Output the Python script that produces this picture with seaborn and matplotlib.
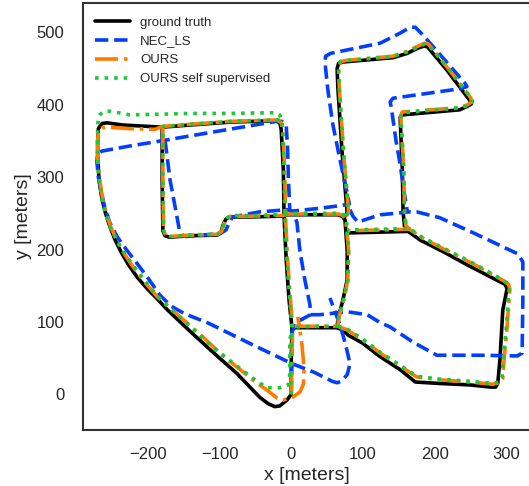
import matplotlib
matplotlib.use("Agg")
import matplotlib.pyplot as plt
from matplotlib.lines import Line2D
import pandas as pd
import seaborn as sns

SERIES = ["ground truth", "NEC_LS", "OURS", "OURS self supervised"]
COLORS = {"ground truth": "black", "NEC_LS": "#023eff",
          "OURS": "#ff7c00", "OURS self supervised": "#1ac938"}
DASHES = {"ground truth": "", "NEC_LS": (3.7, 1.6),
          "OURS": (6.4, 1.6, 1.0, 1.6), "OURS self supervised": (1.0, 1.65)}

# ---- trajectories, (x, y) in meters, split into drivable pieces ----
gt_outer = [(0, 0), (0, 47), (1, 92), (-3, 130), (-7, 185), (-10, 246), (-11, 310), (-14, 366),
            (-16, 375), (-21, 378), (-85, 376), (-141, 372), (-180, 369), (-235, 372), (-257, 375),
            (-264, 374), (-269, 367), (-270, 350), (-270, 328), (-268, 296), (-264, 270),
            (-259, 250), (-253, 232), (-246, 214), (-237, 196), (-227, 179), (-215, 162),
            (-201, 146), (-187, 132), (-173, 117), (-141, 87), (-109, 58), (-76, 29), (-44, -4),
            (-32, -13), (-23, -17), (-16, -16), (-6, -8), (0, 0)]
gt_inner = [(-180, 369), (-180, 296), (-179, 226), (-176, 219), (-170, 217), (-141, 219),
            (-103, 220), (-98, 224), (-95, 234), (-91, 242), (-86, 245), (-57, 245), (-16, 246),
            (-10, 246)]
gt_middle = [(-10, 246), (-5, 248), (40, 248), (65, 248), (71, 246), (75, 241), (78, 199),
             (78, 158), (72, 130), (65, 103), (64, 92), (40, 92), (1, 92)]
gt_right = [(64, 92), (72, 89), (79, 82), (99, 71), (124, 52), (152, 34), (173, 17), (207, 15),
            (249, 13), (278, 10), (285, 10), (288, 15), (291, 47), (295, 116), (301, 146),
            (298, 152), (292, 155), (245, 179), (212, 197), (180, 213), (163, 225), (124, 224),
            (79, 223)]
gt_upper = [(75, 246), (78, 251), (71, 333), (65, 424), (64, 450), (66, 457), (72, 459),
            (142, 465), (162, 471), (176, 478), (185, 481), (190, 480), (217, 448), (249, 406),
            (251, 401), (246, 398), (235, 393), (155, 386), (152, 383), (152, 379), (155, 310),
            (156, 252), (158, 232), (163, 225)]

nec_a = [(0, 0), (1, 47), (1, 86), (8, 100), (27, 110), (26, 124), (19, 158), (12, 199), (8, 237),
         (4, 250), (1, 253), (-2, 254), (-4, 300), (-5, 337), (-7, 371), (-13, 377), (-21, 377),
         (-99, 364), (-176, 351), (-225, 343), (-264, 336), (-270, 332), (-271, 321), (-269, 300),
         (-265, 280), (-260, 258), (-253, 237), (-243, 218), (-230, 200), (-216, 182),
         (-200, 161), (-184, 138), (-168, 122), (-148, 111), (-117, 99), (-53, 68), (2, 42),
         (33, 30), (57, 18), (64, 16), (70, 18), (78, 27), (82, 42), (76, 68), (68, 96), (54, 133)]
nec_b = [(-176, 351), (-169, 296), (-161, 254), (-156, 227), (-152, 220), (-147, 218), (-99, 222),
         (-91, 227), (-86, 238), (-82, 245), (-44, 252), (-6, 255), (1, 253), (40, 257),
         (71, 261), (81, 263), (78, 278), (68, 324), (58, 373), (51, 421), (47, 459), (48, 467),
         (55, 471), (124, 485), (152, 499), (166, 507), (173, 507), (184, 496), (242, 430),
         (245, 425), (235, 422), (142, 409), (138, 404), (140, 393), (146, 351), (152, 317),
         (157, 282), (162, 252), (156, 251), (124, 248), (93, 238), (86, 246), (82, 255), (81, 263)]
nec_c = [(27, 110), (40, 110), (78, 114), (106, 110), (124, 99), (138, 93), (170, 72), (203, 54),
         (263, 54), (315, 53), (322, 57), (323, 130), (323, 183), (316, 194), (254, 223),
         (207, 244), (175, 252), (162, 252)]

ours_start = [(0, 0), (1, 47), (2, 92), (-1, 130), (-5, 185), (-8, 246), (-9, 310), (-12, 366),
              (-14, 375), (-19, 379), (-85, 377), (-141, 373), (-180, 370), (-190, 366),
              (-225, 367), (-257, 369), (-264, 368), (-269, 362), (-270, 350)]
ours_end = [(-270, 350), (-270, 328), (-267, 296), (-263, 270), (-258, 250), (-252, 232),
            (-244, 214), (-234, 196), (-222, 178), (-207, 158), (-187, 135), (-155, 107),
            (-123, 79), (-95, 53), (-71, 34), (-50, 17), (-34, 6), (-20, -5), (-11, -8), (2, -4),
            (12, 3), (17, 14), (18, 34), (15, 68), (11, 96), (9, 107)]
ours_inner = [(-179, 370), (-179, 296), (-178, 226), (-175, 220), (-169, 218), (-141, 220),
              (-103, 221), (-97, 225), (-94, 235), (-90, 243), (-85, 246), (-57, 246), (-16, 247),
              (-9, 247)]
ours_middle = [(-9, 247), (-4, 249), (40, 249), (66, 249), (72, 247), (76, 241), (80, 199),
               (79, 158), (73, 130), (66, 104), (65, 94), (40, 94), (2, 94)]
ours_right = [(65, 94), (78, 89), (100, 75), (124, 57), (152, 39), (175, 24), (207, 20),
              (249, 17), (281, 14), (291, 16), (295, 22), (297, 50), (301, 93), (303, 120),
              (305, 145), (303, 152), (296, 157), (254, 180), (212, 201), (181, 217), (165, 228),
              (124, 227), (79, 226)]
ours_upper = [(76, 246), (80, 251), (73, 333), (67, 424), (66, 451), (69, 459), (75, 461),
              (142, 467), (162, 474), (177, 481), (186, 485), (191, 484), (218, 451), (250, 410),
              (252, 404), (246, 400), (235, 396), (155, 390), (153, 386), (153, 380), (157, 310),
              (158, 252), (160, 233), (165, 228)]

self_start = [(0, 0), (-1, 47), (1, 92), (-2, 130), (-6, 185), (-9, 246), (-10, 310), (-12, 365),
              (-13, 377), (-16, 386), (-21, 389), (-85, 388), (-141, 388), (-180, 387),
              (-225, 386), (-252, 391), (-262, 391), (-268, 385), (-270, 372), (-270, 350)]
self_end = [(-270, 350), (-270, 324), (-268, 296), (-264, 270), (-259, 250), (-252, 230),
            (-243, 212), (-232, 194), (-219, 176), (-204, 157), (-186, 135), (-164, 114),
            (-140, 93), (-109, 65), (-81, 43), (-53, 22), (-34, 9), (-16, 9), (-4, 13), (-2, 27),
            (-2, 75), (1, 89)]
self_inner = [(-16, 379), (-25, 379), (-85, 377), (-141, 373), (-179, 370), (-179, 296),
              (-178, 226), (-175, 220), (-169, 218), (-141, 220), (-103, 221), (-97, 226),
              (-93, 236), (-89, 244), (-84, 247), (-57, 247), (-16, 248), (-9, 248)]
self_middle = [(-9, 248), (-3, 250), (40, 250), (66, 250), (73, 248), (77, 241), (80, 199),
               (79, 158), (73, 130), (66, 105), (65, 94), (40, 94), (2, 93)]
self_right = [(65, 94), (78, 90), (100, 76), (124, 58), (152, 40), (175, 25), (207, 21),
              (249, 18), (281, 15), (290, 17), (294, 23), (296, 50), (300, 93), (302, 120),
              (304, 146), (302, 153), (295, 158), (254, 181), (212, 202), (181, 218), (165, 229),
              (124, 228), (79, 227)]
self_upper = [(77, 247), (80, 252), (73, 333), (67, 424), (66, 451), (69, 460), (76, 461),
              (142, 467), (162, 473), (177, 480), (187, 484), (192, 482), (219, 450), (251, 409),
              (253, 404), (247, 399), (236, 396), (156, 389), (153, 385), (153, 379), (157, 310),
              (158, 252), (160, 233), (165, 229)]

pieces = {
    "ground truth": {"outer": gt_outer, "inner": gt_inner, "middle": gt_middle,
                     "right": gt_right, "upper": gt_upper},
    "NEC_LS": {"a": nec_a, "b": nec_b, "c": nec_c},
    "OURS": {"start": ours_start, "end": ours_end, "inner": ours_inner, "middle": ours_middle,
             "right": ours_right, "upper": ours_upper},
    "OURS self supervised": {"start": self_start, "end": self_end, "inner": self_inner,
                             "middle": self_middle, "right": self_right, "upper": self_upper},
}

rows = []
for series, segs in pieces.items():
    for name, pts in segs.items():
        for i, (x, y) in enumerate(pts):
            rows.append((series, name, i, x, y))
df = pd.DataFrame(rows, columns=["series", "piece", "order", "x", "y"])

sns.set_theme(style="white")
plt.rcParams["font.family"] = ["Liberation Sans", "DejaVu Sans"]

fig = plt.figure(figsize=(5.29, 4.86), dpi=100)
ax = fig.add_axes([0.1569, 0.1152, 0.8469, 0.8792])

LW = 2.6
sns.lineplot(data=df, x="x", y="y", hue="series", style="series", units="piece",
             estimator=None, sort=False, hue_order=SERIES, style_order=SERIES,
             palette=COLORS, dashes=DASHES, linewidth=LW, legend=False, ax=ax,
             solid_joinstyle="round", dash_joinstyle="round", solid_capstyle="round")

ax.set_xlim(-290.4, 334.4)
ax.set_ylim(-49.3, 540.9)
ax.set_xticks([-200, -100, 0, 100, 200, 300])
ax.set_yticks([0, 100, 200, 300, 400, 500])
ax.tick_params(axis="x", length=0, pad=12, labelsize=12, labelcolor="#262626")
ax.tick_params(axis="y", length=0, pad=13.5, labelsize=12, labelcolor="#262626")
ax.set_xlabel("x [meters]", fontsize=14, labelpad=4, color="#262626")
ax.set_ylabel("y [meters]", fontsize=14, labelpad=3, color="#262626")
for sp in ax.spines.values():
    sp.set_color("#333333")
    sp.set_linewidth(1.5)

handles = [Line2D([], [], color=COLORS[s], lw=LW,
                  **({"dashes": DASHES[s]} if DASHES[s] else {}))
           for s in SERIES]
ax.legend(handles, SERIES, loc="upper left", bbox_to_anchor=(0.027, 0.968), frameon=False,
          fontsize=9.5, handlelength=2.65, handletextpad=0.75, labelspacing=0.5,
          borderpad=0, borderaxespad=0)

fig.savefig("out.png", dpi=100)
